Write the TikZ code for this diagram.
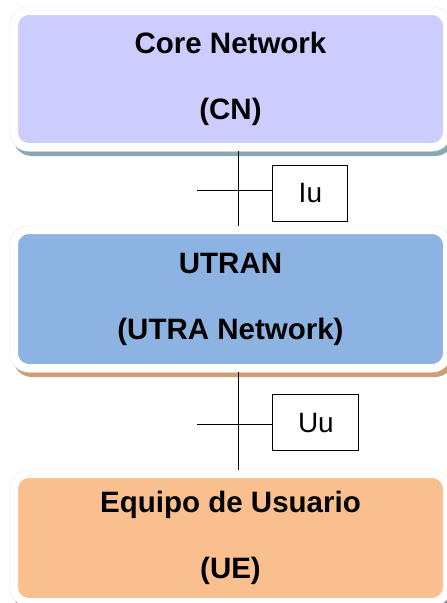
\documentclass[tikz,border=0pt]{standalone}
\usepackage{fontspec}
\setmainfont{Liberation Sans}
\definecolor{cnfill}{RGB}{204,204,255}
\definecolor{cnshadow}{RGB}{138,168,178}
\definecolor{utranfill}{RGB}{141,179,226}
\definecolor{utranshadow}{RGB}{205,158,120}
\definecolor{uefill}{RGB}{250,191,143}
\definecolor{ueshadow}{RGB}{140,140,158}
\begin{document}
\begin{tikzpicture}[x=1pt, y=-1pt,
	block/.style 2 args={rounded corners=15pt, draw=white, line width=8pt, fill=#1,
		preaction={draw=#2, line width=8pt, transform canvas={xshift=3pt, yshift=-5pt}},
		preaction={draw=gray!18, line width=9pt},
		minimum width=433pt, inner sep=0pt, align=center,
		font=\fontsize{29.5}{66}\selectfont\bfseries},
	iface/.style={draw, line width=1pt, minimum height=56pt, inner sep=0pt,
		font=\fontsize{28}{30}\selectfont},
	link/.style={line width=1pt}]

	\useasboundingbox (0,0) rectangle (447,603);
	% Core Network
	\node[block={cnfill}{cnshadow}, minimum height=136pt] (cn) at (230.5,79) {Core Network\\(CN)};
	% UTRAN
	\node[block={utranfill}{utranshadow}, minimum height=138pt] (utran) at (230.5,299) {UTRAN\\(UTRA Network)};
	% Equipo de Usuario
	\node[block={uefill}{ueshadow}, minimum height=128pt] (ue) at (230.5,538) {Equipo de Usuario\\(UE)};
	% Schnittstellen
	\node[iface, minimum width=75pt] (iu) at (310.4,193) {Iu};
	\node[iface, minimum width=86pt] (uu) at (315.9,422.5) {Uu};
	\coordinate (iux) at (238.7,190);
	\coordinate (iutick) at (197,190);
	\coordinate (uux) at (238.7,424);
	\coordinate (uutick) at (197,424);
	% Verbindungen
	\draw[link] (iux |- cn.south) -- (iux |- utran.north);
	\draw[link] (iutick) -- (iutick -| iu.west);
	\draw[link] (uux |- utran.south) -- (uux |- ue.north);
	\draw[link] (uutick) -- (uutick -| uu.west);
\end{tikzpicture}
\end{document}
